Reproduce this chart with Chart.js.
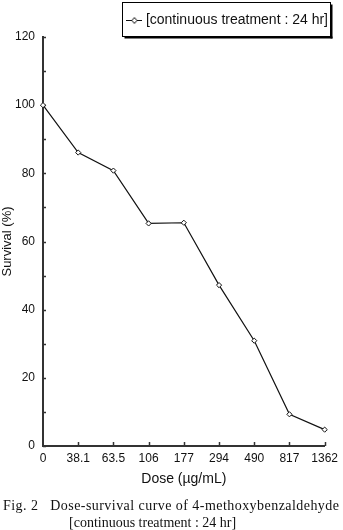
<!DOCTYPE html>
<html>
<head>
<meta charset="utf-8">
<script src="https://cdn.jsdelivr.net/npm/chart.js@4.4.1/dist/chart.umd.min.js"></script>
<style>
  html, body { margin: 0; padding: 0; background: #fff; }
  #wrap { position: relative; width: 343px; height: 530px; }
  #caption {
    position: absolute; left: 3px; top: 497px;
    font-family: "Liberation Serif", "DejaVu Serif", serif;
    font-size: 14px; line-height: 17px; color: #111; white-space: pre;
  }
  #caption .l1 { letter-spacing: 0.45px; }
  #caption .l2 { padding-left: 66px; }
</style>
</head>
<body>
<div id="wrap">
  <canvas id="chart" width="343" height="530"></canvas>
  <div id="caption"><div class="l1">Fig. 2   Dose-survival curve of 4-methoxybenzaldehyde</div><div class="l2">[continuous treatment : 24 hr]</div></div>
</div>
<script>
// --- data ---
const doses = ['0', '38.1', '63.5', '106', '177', '294', '490', '817', '1362'];
const survival = [100, 86.1, 80.8, 65.3, 65.5, 47.2, 30.9, 9.3, 4.8];
const yTickValues = [0, 10, 20, 30, 40, 50, 60, 70, 80, 90, 100, 110, 120];
const yLabelValues = [0, 20, 40, 60, 80, 100, 120];
const seriesLabel = '[continuous treatment : 24 hr]';

const axisColor = '#333';
const inkColor = '#111';
const sans = '"Liberation Sans", Arial, sans-serif';

// little "line with a diamond" icon for the legend
function legendIcon() {
  const c = document.createElement('canvas');
  c.width = 16; c.height = 8;
  const g = c.getContext('2d');
  g.strokeStyle = inkColor;
  g.lineWidth = 1;
  g.beginPath(); g.moveTo(0, 4.5); g.lineTo(16, 4.5); g.stroke();
  g.fillStyle = '#fff';
  g.beginPath();
  g.moveTo(8, 1.5); g.lineTo(10.5, 4.5); g.lineTo(8, 7.5); g.lineTo(5.5, 4.5); g.closePath();
  g.fill(); g.stroke();
  return c;
}

// tick marks pointing into the plot, like the original
const innerTicks = {
  id: 'innerTicks',
  beforeDatasetsDraw(chart) {
    const { ctx, chartArea, scales } = chart;
    ctx.save();
    ctx.strokeStyle = axisColor;
    ctx.lineWidth = 1.5;
    scales.y.ticks.forEach(t => {
      const y = Math.round(scales.y.getPixelForValue(t.value)) + 0.5;
      ctx.beginPath(); ctx.moveTo(chartArea.left, y); ctx.lineTo(chartArea.left + 3, y); ctx.stroke();
    });
    scales.x.ticks.forEach((t, i) => {
      if (i === 0) return;
      const x = Math.round(scales.x.getPixelForTick(i)) + 0.5;
      ctx.beginPath(); ctx.moveTo(x, chartArea.bottom); ctx.lineTo(x, chartArea.bottom - 4); ctx.stroke();
    });
    ctx.restore();
  }
};

// framed legend with a drop shadow, nudged a little in from the right edge
const legendFrame = {
  id: 'legendFrame',
  afterLayout(chart) {
    const lg = chart.legend;
    if (lg) { lg.left -= 6; lg.right -= 6; }
  },
  afterDraw(chart) {
    const lg = chart.legend;
    if (!lg || !lg.legendHitBoxes || !lg.legendHitBoxes.length) return;
    const hb = lg.legendHitBoxes[0];
    const cy = hb.top + hb.height / 2;
    const x0 = Math.round(hb.left - 7.5) + 0.5, x1 = Math.round(hb.left + hb.width + 2) + 0.5;
    const y0 = Math.round(cy - 18) + 0.5, y1 = Math.round(cy + 16) + 0.5;
    const { ctx } = chart;
    ctx.save();
    ctx.fillStyle = '#000';
    ctx.fillRect(x0 + 2, y1, x1 - x0, 2);
    ctx.fillRect(x1, y0 + 2, 2, y1 - y0);
    ctx.strokeStyle = '#000';
    ctx.lineWidth = 1;
    ctx.strokeRect(x0, y0, x1 - x0, y1 - y0);
    ctx.restore();
  }
};

new Chart(document.getElementById('chart'), {
  type: 'line',
  data: {
    labels: doses,
    datasets: [{
      label: seriesLabel,
      data: survival,
      borderColor: inkColor,
      borderWidth: 1.2,
      tension: 0,
      pointStyle: 'rectRot',
      pointRadius: 2.6,
      pointBackgroundColor: '#fff',
      pointBorderColor: inkColor,
      pointBorderWidth: 1,
      clip: false
    }]
  },
  options: {
    responsive: false,
    animation: false,
    layout: { padding: { top: 4, right: 0, bottom: 40, left: 0 } },
    plugins: {
      tooltip: { enabled: false },
      legend: {
        position: 'top',
        align: 'end',
        labels: {
          usePointStyle: true,
          pointStyle: legendIcon(),
          pointStyleWidth: 9,
          padding: 9,
          color: inkColor,
          font: { family: sans, size: 14 }
        }
      }
    },
    scales: {
      x: {
        type: 'category',
        offset: false,
        grid: { display: false, drawTicks: false },
        border: { display: true, color: axisColor, width: 2 },
        ticks: {
          color: inkColor,
          padding: 5,
          maxRotation: 0,
          autoSkip: false,
          font: { family: sans, size: 12 }
        },
        title: {
          display: true,
          text: 'Dose (\u00b5g/mL)',
          color: inkColor,
          padding: { top: 0, bottom: 2 },
          font: { family: sans, size: 14 }
        },
        afterFit(scale) { scale.height = 44; }
      },
      y: {
        min: 0,
        max: 120,
        grid: { display: false, drawTicks: false },
        border: { display: true, color: axisColor, width: 2 },
        afterBuildTicks(scale) { scale.ticks = yTickValues.map(v => ({ value: v })); },
        ticks: {
          color: inkColor,
          padding: 8,
          autoSkip: false,
          callback: v => (yLabelValues.includes(v) ? String(v) : ''),
          font: { family: sans, size: 12 }
        },
        title: {
          display: true,
          text: 'Survival (%)',
          color: inkColor,
          padding: { top: 0, bottom: 0 },
          font: { family: sans, size: 13 }
        },
        afterFit(scale) { scale.width = 43; }
      }
    }
  },
  plugins: [innerTicks, legendFrame]
});
</script>
</body>
</html>
